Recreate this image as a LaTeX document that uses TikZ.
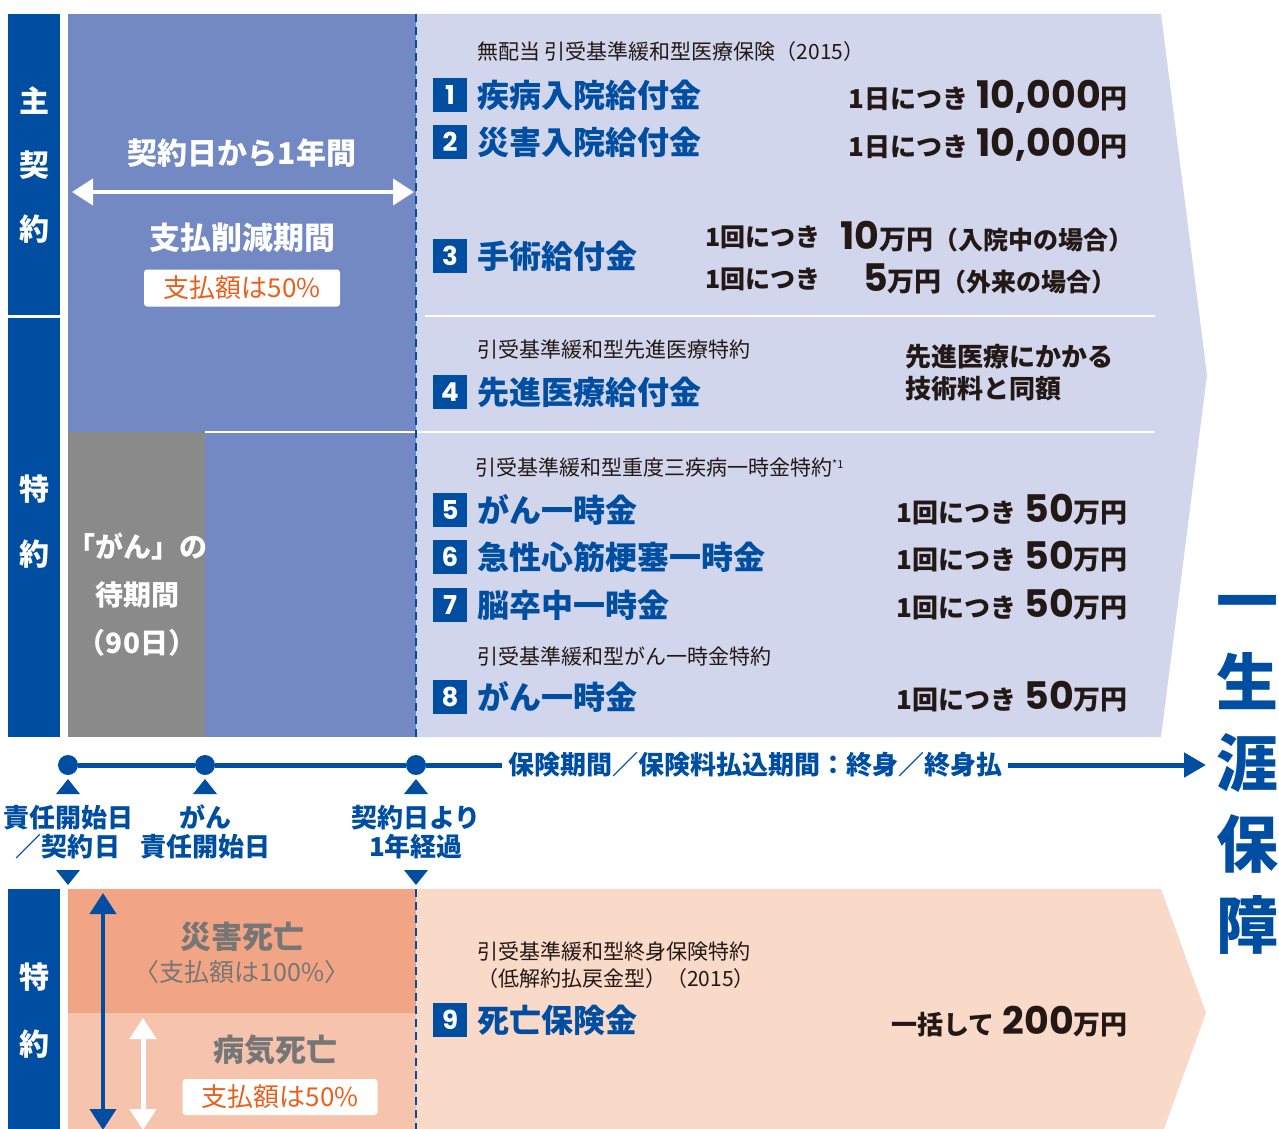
\documentclass[tikz,border=0pt]{standalone}
\usepackage{fontspec}
\setmainfont{Noto Sans CJK JP}
\newfontfamily\numfont{Poppins}
\usepackage{tikz}
\usetikzlibrary{arrows.meta,backgrounds}
\definecolor{navy}{RGB}{0,78,162}
\definecolor{midblue}{RGB}{115,137,195}
\definecolor{lavender}{RGB}{210,214,236}
\definecolor{waitgray}{RGB}{138,138,138}
\definecolor{salmon}{RGB}{242,165,132}
\definecolor{lightsalmon}{RGB}{246,196,172}
\definecolor{peach}{RGB}{249,218,200}
\definecolor{payorange}{RGB}{232,96,30}
\definecolor{ink}{RGB}{35,24,21}
\definecolor{deathgray}{RGB}{118,118,118}
\newcommand{\headtip}{Triangle[length=21pt,width=26pt]}
\newcommand{\sumb}[2]{{\numfont\fontsize{38}{38}\bfseries #1}{\fontsize{27}{27}\bfseries #2}}
\newcommand{\amt}[3]{{\fontsize{26}{26}\bfseries #1}\hspace{8pt}\sumb{#2}{#3}}
\tikzset{
  badge/.style={fill=navy,text=white,minimum size=34pt,inner sep=0pt,font=\numfont\fontsize{26}{26}\bfseries},
  item/.style={text=navy,anchor=west,inner sep=0pt,font=\fontsize{32}{32}\bfseries},
  plan/.style={text=ink,anchor=west,inner sep=0pt,font=\fontsize{21}{21}\selectfont},
  amount/.style={text=ink,anchor=east,inner sep=0pt},
  per/.style={text=ink,anchor=west,inner sep=0pt,font=\fontsize{25}{25}\bfseries},
  vlabel/.style={text=white,align=center,inner sep=0pt,font=\fontsize{30}{#1}\bfseries},
  rate/.style={fill=white,rounded corners=3pt,text=payorange,minimum width=196pt,minimum height=37pt,inner sep=0pt,font=\fontsize{26}{26}\selectfont},
  tl/.style={text=navy,align=center,inner sep=0pt,font=\fontsize{26}{29}\bfseries},
  dot/.style={circle,fill=navy,minimum size=20pt,inner sep=0pt},
  divider/.style={white,line width=2pt},
  period/.style={navy,line width=2.5pt,dash pattern=on 8pt off 5pt},
}

\begin{document}
\begin{tikzpicture}[x=1pt,y=-1pt]
\useasboundingbox (0,0) rectangle (1279,1129);
%left labels
\fill[navy] (8,14) rectangle (60,315);
\fill[navy] (8,318) rectangle (60,737);
\fill[navy] (8,889) rectangle (60,1129);
\node[vlabel=64] (main) at (34,165) {主\\契\\約};
\node[vlabel=65] (rider1) at (34,522) {特\\約};
\node[vlabel=67] (rider2) at (34,1011) {特\\約};
%first year
\fill[midblue] (68,14) rectangle (416,737);
\fill[waitgray] (68,432) rectangle (205,737);
\fill[lavender] (416,14) -- (1161,14) -- (1207,375) -- (1161,737) -- (416,737) -- cycle;
\draw[divider] (425,316) -- (1155,316);
\draw[divider] (205,432) -- (1155,432);
\draw[period] (416,14) -- (416,737);
\node[text=white,font=\fontsize{30}{30}\bfseries] (year) at (242,153) {契約日から1年間};
\coordinate (yl) at (72,192);
\coordinate (yr) at (414,192);
\draw[white,line width=4pt,{\headtip}-{\headtip}] (yl) -- (yr);
\node[text=white,font=\fontsize{31}{31}\bfseries] (cut) at (242,238) {支払削減期間};
\node[rate] (cutrate) at (242,288) {支払額は50\%};
\node[vlabel=48,font=\fontsize{28}{48}\bfseries] (wait) at (137,595) {「がん」の\\待期間\\（90日）};
%medical insurance
\node[plan] (p1) at (477,52) {無配当 引受基準緩和型医療保険（2015）};
\node[badge] (b1) at (450,95) {1};
\node[item] (i1) at (477,95) {疾病入院給付金};
\node[amount] (a1) at (1128,97) {\amt{1日につき}{10,000}{円}};
\node[badge] (b2) at (450,142) {2};
\node[item] (i2) at (477,142) {災害入院給付金};
\node[amount] (a2) at (1128,145) {\amt{1日につき}{10,000}{円}};
\node[badge] (b3) at (450,256) {3};
\node[item] (i3) at (477,256) {手術給付金};
\node[per] (a3) at (705,237) {1回につき};
\node[per] (s3) at (840,237) {\sumb{10}{万円}{\fontsize{25}{25}\bfseries（入院中の場合）}};
\node[per] (a3b) at (705,279) {1回につき};
\node[per] (s3b) at (863,279) {\sumb{5}{万円}{\fontsize{25}{25}\bfseries（外来の場合）}};
%advanced medical
\node[plan] (p4) at (477,350) {引受基準緩和型先進医療特約};
\node[badge] (b4) at (450,392) {4};
\node[item] (i4) at (477,392) {先進医療給付金};
\node[per,align=left,font=\fontsize{26}{32}\bfseries] (a4) at (905,373) {先進医療にかかる\\技術料と同額};
%lump sums
\node[plan] (p5) at (475,467) {引受基準緩和型重度三疾病一時金特約\raisebox{7pt}{\fontsize{11}{11}\selectfont *1}};
\node[badge] (b5) at (450,510) {5};
\node[item] (i5) at (477,510) {がん一時金};
\node[amount] (a5) at (1128,510) {\amt{1回につき}{50}{万円}};
\node[badge] (b6) at (450,557) {6};
\node[item] (i6) at (477,557) {急性心筋梗塞一時金};
\node[amount] (a6) at (1128,557) {\amt{1回につき}{50}{万円}};
\node[badge] (b7) at (450,605) {7};
\node[item] (i7) at (477,605) {脳卒中一時金};
\node[amount] (a7) at (1128,605) {\amt{1回につき}{50}{万円}};
\node[plan] (p8) at (477,656) {引受基準緩和型がん一時金特約};
\node[badge] (b8) at (450,697) {8};
\node[item] (i8) at (477,697) {がん一時金};
\node[amount] (a8) at (1128,697) {\amt{1回につき}{50}{万円}};
%timeline
\node[dot] (d1) at (68,765) {};
\node[dot] (d2) at (205,765) {};
\node[dot] (d3) at (416,765) {};
\node[text=navy,font=\fontsize{26}{26}\bfseries,anchor=west,inner xsep=6pt,inner ysep=0pt] (term) at (502,765) {保険期間／保険料払込期間：終身／終身払};
\coordinate (tip) at (1206,765);
\draw[navy,line width=5pt] (d1) -- (d2) -- (d3) -- (term);
\draw[navy,line width=5pt,-{Triangle[length=22pt,width=24pt]}] (term) -- (tip);
\foreach \d in {d1,d2,d3}
  \fill[navy] (\d) ++(-12,29) -- ++(24,0) -- ++(-12,-15) -- cycle;
\foreach \d in {d1,d3}
  \fill[navy] (\d) ++(-12,105) -- ++(24,0) -- ++(-12,15) -- cycle;
\node[tl] (l1) at (68,832) {責任開始日\\／契約日};
\node[tl] (l2) at (205,832) {がん\\責任開始日};
\node[tl] (l3) at (416,832) {契約日より\\1年経過};
\node[text=navy,align=center,inner sep=0pt,font=\fontsize{62}{81}\bfseries] (life) at (1247,775) {一\\生\\涯\\保\\障};
%death benefit
\fill[salmon] (68,889) rectangle (416,1013);
\fill[lightsalmon] (68,1013) rectangle (416,1129);
\fill[peach] (416,889) -- (1161,889) -- (1206,1013) -- (1161,1137) -- (416,1137) -- cycle;
\draw[period] (416,889) -- (416,1129);
\coordinate (dt) at (103,893);
\coordinate (db) at (103,1130);
\draw[navy,line width=4pt,{\headtip}-{\headtip}] (dt) -- (db);
\coordinate (it) at (143,1018);
\coordinate (ib) at (143,1130);
\draw[white,line width=5pt,{\headtip}-{\headtip}] (it) -- (ib);
\node[text=deathgray,font=\fontsize{31}{31}\bfseries] (acc) at (242,937) {災害死亡};
\node[text=deathgray,font=\fontsize{25}{25}\selectfont] (accrate) at (242,972) {〈支払額は100\%〉};
\node[text=deathgray,font=\fontsize{31}{31}\bfseries] (ill) at (275,1050) {病気死亡};
\node[rate,minimum width=195pt,minimum height=36pt] (illrate) at (280,1097) {支払額は50\%};
\node[plan] (p9) at (477,952) {引受基準緩和型終身保険特約};
\node[plan] (p9b) at (477,979) {（低解約払戻金型）（2015）};
\node[badge] (b9) at (450,1020) {9};
\node[item] (i9) at (477,1020) {死亡保険金};
\node[amount] (a9) at (1128,1022) {\amt{一括して}{200}{万円}};
\end{tikzpicture}
\end{document}
